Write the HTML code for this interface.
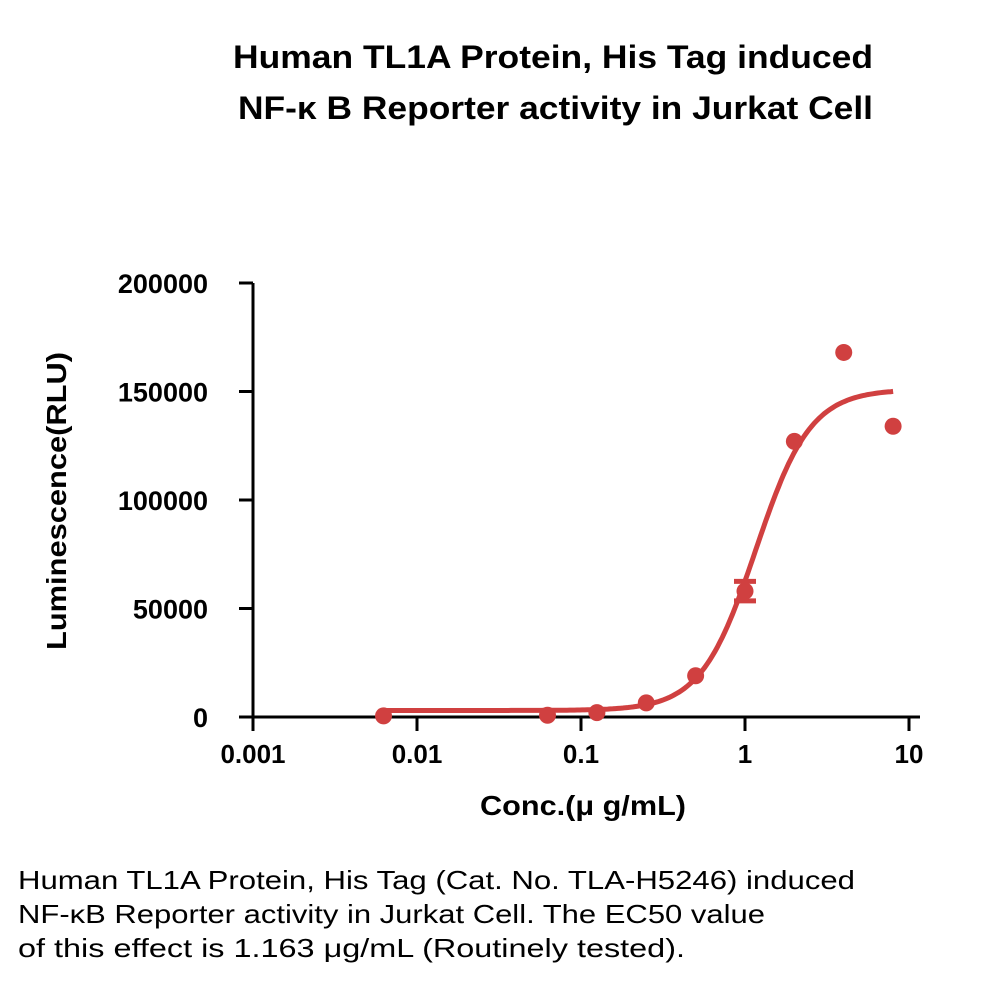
<!DOCTYPE html>
<html><head><meta charset="utf-8"><style>
body{margin:0;background:#fff;width:1000px;height:979px;overflow:hidden;font-family:"Liberation Sans",sans-serif}
</style></head><body>
<svg width="1000" height="979" xmlns="http://www.w3.org/2000/svg">
<g font-weight="bold" font-size="32" fill="#000">
<text x="233" y="68" textLength="640" lengthAdjust="spacingAndGlyphs">Human TL1A Protein, His Tag induced</text>
<text x="238" y="119" textLength="635" lengthAdjust="spacingAndGlyphs">NF-κ  B Reporter activity in Jurkat Cell</text>
</g>
<g id="axes"></g>
<g id="marks"></g>
<text x="480" y="815" font-size="28" font-weight="bold" textLength="206" lengthAdjust="spacingAndGlyphs">Conc.(μ g/mL)</text>
<text transform="translate(66,650) rotate(-90)" font-size="28" font-weight="bold" textLength="298" lengthAdjust="spacingAndGlyphs">Luminescence(RLU)</text>
<g font-size="26" fill="#000">
<text x="18" y="889" textLength="837" lengthAdjust="spacingAndGlyphs">Human TL1A Protein, His Tag (Cat. No. TLA-H5246) induced</text>
<text x="18" y="923" textLength="747" lengthAdjust="spacingAndGlyphs">NF-κB Reporter activity in Jurkat Cell. The EC50 value</text>
<text x="18" y="957" textLength="667" lengthAdjust="spacingAndGlyphs">of this effect is 1.163 μg/mL (Routinely tested).</text>
</g>
</svg>
<script>
const xTicks=[0.001,0.01,0.1,1,10];
const xTickLabels=["0.001","0.01","0.1","1","10"];
const yTicks=[0,50000,100000,150000,200000];
const yTickLabels=["0","50000","100000","150000","200000"];
const concentrations=[0.00625,0.0625,0.125,0.25,0.5,1,2,4,8];
const luminescence=[500,800,2000,6500,19000,58000,127000,168000,134000];
const errors=[0,0,0,0,0,4500,0,0,0];
const fitBottom=3000, fitTop=151000, fitEC50=1.163, fitHill=2.6;
const NS="http://www.w3.org/2000/svg";
const X=v=>253+164*(Math.log10(v)+3);
const Y=v=>717-v*(434/200000);
function mk(t,a,p){const e=document.createElementNS(NS,t);for(const k in a)e.setAttribute(k,a[k]);p.appendChild(e);return e;}
const ax=document.getElementById('axes'),mg=document.getElementById('marks');
let e=mk('line',{x1:253,y1:283,x2:253,y2:719,stroke:'#000','stroke-width':3},ax);

e=mk('line',{x1:239,y1:717,x2:920,y2:717,stroke:'#000','stroke-width':3},ax);

yTicks.forEach((v,i)=>{
 let t=mk('line',{x1:239,x2:253,y1:Y(v),y2:Y(v),stroke:'#000','stroke-width':3},ax);
 
 let l=mk('text',{x:208,y:Y(v)+10,'font-size':27,'font-weight':'bold','text-anchor':'end'},ax);
 l.textContent=yTickLabels[i];
 
});
xTicks.forEach((v,i)=>{
 let t=mk('line',{x1:X(v),x2:X(v),y1:717,y2:731,stroke:'#000','stroke-width':3},ax);
 
 let l=mk('text',{x:X(v),y:763,'font-size':26,'font-weight':'bold','text-anchor':'middle'},ax);
 l.textContent=xTickLabels[i];
 
});
let d='';
const lo=Math.log10(concentrations[0]),hi=Math.log10(concentrations[concentrations.length-1]);
for(let i=0;i<=200;i++){const lx=lo+(hi-lo)*i/200,c=Math.pow(10,lx);
 const y=fitBottom+(fitTop-fitBottom)/(1+Math.pow(fitEC50/c,fitHill));
 d+=(i?'L':'M')+X(c).toFixed(1)+','+Y(y).toFixed(1);}
e=mk('path',{d:d,fill:'none',stroke:'#d04040','stroke-width':5},mg);

concentrations.forEach((c,i)=>{
 const x=X(c),y=Y(luminescence[i]);
 if(errors[i]){
  const g=mk('g',{stroke:'#d04040','stroke-width':5},mg);
  
  const t=Y(luminescence[i]+errors[i]),b=Y(luminescence[i]-errors[i]);
  mk('line',{x1:x,x2:x,y1:t,y2:b},g);
  mk('line',{x1:x-11,x2:x+11,y1:t,y2:t},g);
  mk('line',{x1:x-11,x2:x+11,y1:b,y2:b},g);
 }
 const p=mk('circle',{cx:x,cy:y,r:8.5,fill:'#d04040'},mg);
 
});
</script>
</body></html>
